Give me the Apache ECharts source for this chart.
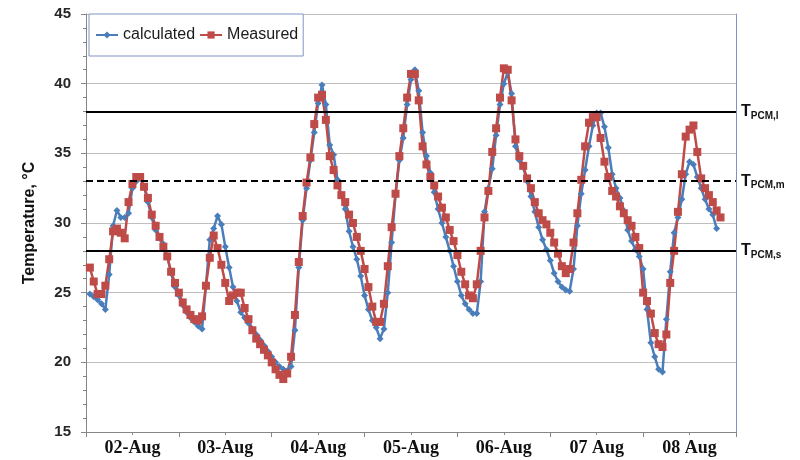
<!DOCTYPE html>
<html><head><meta charset="utf-8">
<script src="https://cdn.jsdelivr.net/npm/echarts@6/dist/echarts.min.js"></script>
<style>html,body{margin:0;padding:0;background:#fff}#c{width:800px;height:460px}</style>
</head><body><div id="c"></div>
<script>
// x categories (days) shown under the axis
const dayLabels = ['02-Aug', '03-Aug', '04-Aug', '05-Aug', '06-Aug', '07 Aug', '08 Aug'];
// y tick range
const yTicks = [15, 20, 25, 30, 35, 40, 45];
// hourly values, starting at hour 1
const firstHour = 1;
const calculated = [
  24.9, 24.7, 24.5, 24.2, 23.8, 26.3, 29.8, 30.9, 30.4, 30.4,
  30.7, 32.5, 33.0, 33.2, 32.6, 31.5, 30.4, 29.5, 28.9, 28.5,
  27.6, 26.4, 25.4, 24.8, 24.1, 23.6, 23.2, 22.9, 22.6, 22.4,
  25.5, 28.8, 29.6, 30.5, 29.9, 28.3, 26.8, 25.4, 24.4, 23.6,
  23.2, 22.8, 22.4, 22.0, 21.6, 21.2, 20.8, 20.4, 20.0, 19.7,
  19.5, 19.4, 19.7, 22.3, 26.8, 30.2, 32.5, 34.5, 36.5, 38.6,
  39.9, 38.5, 35.6, 34.9, 33.1, 32.0, 31.0, 29.4, 28.3, 27.4,
  26.2, 24.8, 23.8, 23.0, 22.5, 21.7, 22.4, 25.0, 28.6, 32.0,
  34.5, 36.1, 38.5, 40.3, 41.0, 39.5, 36.5, 34.8, 33.6, 32.2,
  31.0, 30.0, 29.0, 28.0, 26.9, 25.8, 24.8, 24.2, 23.8, 23.5,
  23.5, 25.8, 30.8, 32.5, 33.9, 36.3, 38.5, 40.0, 40.8, 39.3,
  35.5, 34.5, 34.0, 33.0, 31.9, 30.8, 29.7, 28.8, 28.1, 27.3,
  26.4, 25.8, 25.4, 25.2, 25.1, 26.7, 29.8, 32.1, 33.8, 35.5,
  37.0, 37.9, 37.9, 36.9, 35.4, 33.5, 32.5, 31.8, 30.9, 29.5,
  28.7, 28.1, 27.6, 26.7, 23.8, 21.4, 20.4, 19.5, 19.3, 23.1,
  26.5, 29.3, 30.4, 31.7, 33.5, 34.4, 34.2, 33.3, 32.5, 31.7,
  31.0, 30.6, 29.6
];
const measured = [
  26.8, 25.8, 24.9, 24.9, 25.5, 27.4, 29.4, 29.6, 29.3, 28.9,
  31.5, 32.8, 33.3, 33.3, 32.6, 31.8, 30.6, 29.8, 29.0, 28.3,
  27.6, 26.5, 25.7, 25.0, 24.3, 23.8, 23.4, 23.1, 23.0, 23.3,
  25.5, 27.5, 29.1, 28.2, 27.0, 25.7, 24.4, 24.8, 25.0, 25.0,
  23.9, 23.1, 22.3, 21.7, 21.3, 20.9, 20.5, 20.0, 19.5, 19.1,
  18.8, 19.2, 20.4, 23.4, 27.2, 30.5, 32.9, 34.7, 37.1, 39.0,
  39.2, 37.4, 34.8, 33.8, 32.7, 32.0, 31.5, 30.6, 30.0, 29.0,
  28.0, 26.7, 25.4, 24.0, 22.9, 22.9, 24.2, 26.9, 29.7, 32.1,
  34.8, 36.8, 39.0, 40.7, 40.7, 38.8, 35.5, 34.2, 33.3, 32.7,
  31.9, 31.1, 30.4, 29.5, 28.7, 27.7, 26.5, 25.6, 24.8, 24.6,
  25.6, 28.0, 30.4, 32.3, 35.1, 36.8, 39.0, 41.1, 41.0, 38.8,
  36.0, 34.8, 34.1, 33.2, 32.5, 31.5, 30.7, 30.2, 29.9, 29.3,
  28.6, 27.8, 26.9, 26.4, 26.7, 28.6, 30.7, 33.1, 35.5, 37.2,
  37.6, 37.6, 36.1, 34.4, 33.3, 32.3, 31.9, 31.2, 30.7, 30.2,
  29.8, 29.0, 28.2, 25.0, 24.4, 23.5, 22.1, 21.3, 21.1, 22.0,
  25.7, 28.0, 30.8, 33.5, 36.2, 36.7, 37.0, 35.1, 33.2, 32.5,
  32.0, 31.5, 30.9, 30.4
];
// PCM reference temperatures
const pcmLevels = [38, 33, 28];
const pcmSubs = ['PCM,l', 'PCM,m', 'PCM,s'];
const pcmDashed = [false, true, false];

const hoursPerDay = 24;
const totalHours = dayLabels.length * hoursPerDay;

const chart = echarts.init(document.getElementById('c'), null, {renderer: 'canvas'});
const sans = 'Liberation Sans, Arial, sans-serif';
const serif = 'Liberation Serif, Times New Roman, serif';

chart.setOption({
  animation: false,
  backgroundColor: '#fff',
  grid: {left: 86, right: 64, top: 14, bottom: 28, containLabel: false},
  legend: {
    data: ['calculated', 'Measured'],
    left: 89, top: 14,
    orient: 'horizontal',
    padding: [13, 5, 13, 6],
    itemGap: 4,
    itemWidth: 22, itemHeight: 9,
    borderColor: '#7f95c2', borderWidth: 1, borderRadius: 0,
    backgroundColor: '#fff',
    textStyle: {fontFamily: sans, fontSize: 16, color: '#1a1a1a'}
  },
  xAxis: [{
    type: 'value', min: 0, max: totalHours, interval: hoursPerDay,
    axisLine: {show: true, lineStyle: {color: '#868686', width: 1}},
    axisTick: {show: true, length: 5, lineStyle: {color: '#868686'}},
    minorTick: {show: true, splitNumber: 2, length: 3, lineStyle: {color: '#868686'}},
    axisLabel: {show: false},
    splitLine: {show: false}
  }, {
    type: 'category', data: dayLabels, position: 'bottom', boundaryGap: true,
    axisLine: {show: false}, axisTick: {show: false}, splitLine: {show: false},
    axisLabel: {fontFamily: serif, fontWeight: 'bold', fontSize: 18, color: '#111', margin: 7}
  }],
  yAxis: [{
    type: 'value', min: yTicks[0], max: yTicks[yTicks.length - 1], interval: 5,
    name: 'Temperature, °C', nameLocation: 'middle', nameGap: 48,
    nameTextStyle: {fontFamily: sans, fontWeight: 'bold', fontSize: 16, color: '#111'},
    axisLine: {show: true, lineStyle: {color: '#868686', width: 1}},
    axisTick: {show: true, length: 5, lineStyle: {color: '#868686'}},
    minorTick: {show: true, splitNumber: 5, length: 3, lineStyle: {color: '#868686'}},
    axisLabel: {fontFamily: sans, fontWeight: 'bold', fontSize: 15, color: '#262626', margin: 15},
    splitLine: {show: true, lineStyle: {color: '#bfbfbf', width: 1}}
  }, {
    type: 'value', min: yTicks[0], max: yTicks[yTicks.length - 1], interval: 5, position: 'right',
    axisLine: {show: true, lineStyle: {color: '#7f95c2', width: 1}},
    axisTick: {show: false}, axisLabel: {show: false}, splitLine: {show: false}
  }],
  series: [{
    name: 'pcm', type: 'line', data: [], silent: true,
    markLine: {
      silent: true, symbol: 'none', animation: false,
      data: pcmLevels.map((v, i) => ({
        yAxis: v,
        lineStyle: {color: '#000', width: 2, type: pcmDashed[i] ? [7, 4] : 'solid'},
        label: {formatter: '{t|T}{s|' + pcmSubs[i] + '}'}
      })),
      label: {
        show: true, position: 'end', distance: 5,
        rich: {
          t: {fontFamily: sans, fontWeight: 'bold', fontSize: 16, color: '#111'},
          s: {fontFamily: sans, fontWeight: 'bold', fontSize: 10, color: '#111', padding: [9, 0, 0, 0]}
        }
      }
    }
  }, {
    name: 'calculated', type: 'line',
    data: calculated.map((v, i) => [firstHour + i, v]),
    symbol: 'diamond', symbolSize: 7,
    lineStyle: {color: '#4a7ebb', width: 2.5},
    itemStyle: {color: '#4a7ebb'}
  }, {
    name: 'Measured', type: 'line',
    data: measured.map((v, i) => [firstHour + i, v]),
    symbol: 'rect', symbolSize: 8,
    lineStyle: {color: '#be4b48', width: 2.5},
    itemStyle: {color: '#be4b48'}
  }]
});
</script>
</body></html>
